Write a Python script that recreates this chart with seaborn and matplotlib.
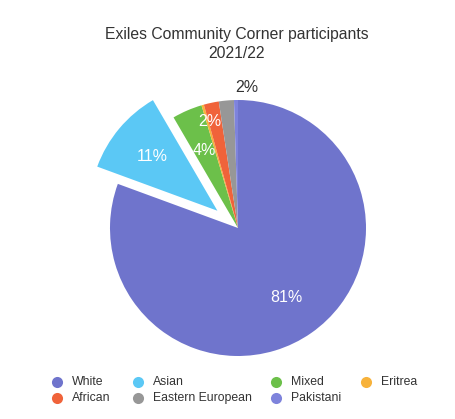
import matplotlib
matplotlib.use("Agg")
import matplotlib.pyplot as plt
import seaborn as sns
import numpy as np
from matplotlib.lines import Line2D

# data
groups = ["White", "Asian", "Mixed", "Eritrea", "African", "Eastern European", "Pakistani"]
shares = [80.6, 11.0, 3.8, 0.3, 1.9, 1.9, 0.5]
colours = ["#6f74cc", "#5bc8f5", "#6cc04a", "#f7b23b", "#f0633a", "#979797", "#7e83dc"]
explode = [0, 0.21, 0, 0, 0, 0, 0]

sns.set_theme(style="white")
plt.rcParams['font.family'] = ['Liberation Sans', 'DejaVu Sans']

W, H = 455, 419
fig = plt.figure(figsize=(W / 100, H / 100), dpi=100)
fig.patch.set_facecolor("white")

# pie centre ~ (238, 228) px, radius ~128 px
cx, cy, r = 238 / W, 1 - 228 / H, 128
ax = fig.add_axes([cx - r / W, cy - r / H, 2 * r / W, 2 * r / H])


def pct_label(p):
    return f"{p:.0f}%" if p >= 1 else ""


wedges, texts, autotexts = ax.pie(
    shares, colors=colours, explode=explode, startangle=90, counterclock=False,
    autopct=pct_label, pctdistance=0.66,
    wedgeprops=dict(linewidth=0),
    textprops=dict(color="white", fontsize=11.5),
)
ax.set_xlim(-1, 1)
ax.set_ylim(-1, 1)
ax.set_aspect("equal")
ax.axis("off")
for w in wedges:
    w.set_clip_on(False)


# nudge the crowded small labels like the original
def move_label(i, radius, dtheta=0):
    w = wedges[i]
    th = np.deg2rad((w.theta1 + w.theta2) / 2 + dtheta)
    autotexts[i].set_position((radius * np.cos(th), radius * np.sin(th)))


move_label(4, 0.86, 3)
move_label(5, 1.1, -9)
autotexts[5].set_color("#333333")

fig.text(0.52, 0.918, "Exiles Community Corner participants", ha="center", va="center",
         fontsize=11.3, color="#333333")
fig.text(0.52, 0.873, "2021/22", ha="center", va="center", fontsize=11.3, color="#333333")

# legend laid out row-wise in 4 columns, as in the original
col_x = [57, 138, 276, 366]
row_y = [382, 398]
for k, (name, c) in enumerate(zip(groups, colours)):
    x = col_x[k % 4] / W
    y = 1 - row_y[k // 4] / H
    fig.add_artist(Line2D([x], [y], marker="o", linestyle="", markersize=8,
                          markerfacecolor=c, markeredgewidth=0,
                          transform=fig.transFigure))
    fig.text(x + 15 / W, y, name, ha="left", va="center", fontsize=8.8, color="#333333")

fig.savefig("out.png", dpi=100, facecolor="white")
